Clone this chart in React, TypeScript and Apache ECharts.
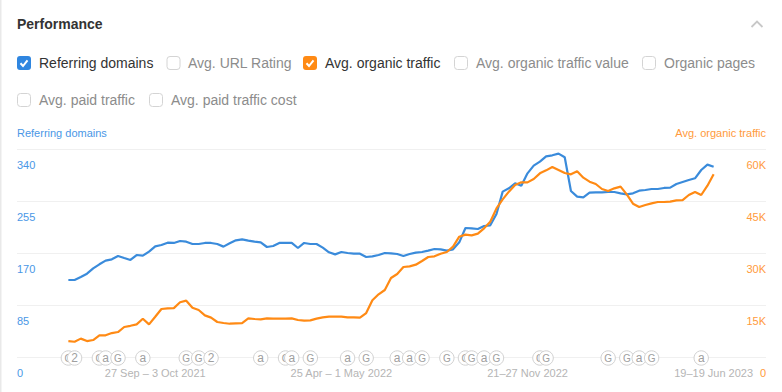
import React, { useEffect, useRef } from "react";
import * as echarts from "echarts";

const referringDomains = [
  125.9, 125.9, 130.8, 136.2, 144.9, 151.5, 157.5, 159.7, 165.1, 161.8, 158.6, 166.7, 165.6, 172.2, 180.9,
  183.1, 186.9, 186.4, 189.6, 188.5, 184.7, 184.7, 186.4, 186.4, 184.7, 180.4, 185.8, 190.7, 192.3, 190.2,
  188.5, 187.4, 179.8, 181.4, 186.4, 186.4, 186.4, 178.2, 186.4, 184.7, 184.7, 178.7, 171.1, 167.8, 171.6,
  170, 168.9, 168.9, 163.5, 164.6, 166.7, 170, 169.5, 168.4, 165.1, 168.4, 170.6, 171.6, 173.8, 176.5,
  176, 173.8, 176, 187.4, 210.9, 210.3, 209.2, 214.1, 215.2, 233.8, 270.3, 275.7, 283.9, 280, 300.2,
  312.8, 319.3, 328, 329.7, 332.4, 326.4, 271.4, 262.1, 261, 268.6, 269.2, 269.2, 269.7, 269.7, 267.5,
  265.9, 267.5, 271.9, 273, 274.6, 274.6, 276.3, 276.8, 282.8, 286.1, 289.3, 292.1, 305.7, 314.4, 311.1,
];

const organicTrafficK = [
  4.6, 4.4, 5.3, 4.6, 4.9, 6.25, 6.25, 6.9, 7.2, 8.65, 9.0, 9.4, 11.05, 9.4, 11.6,
  13.85, 14.0, 14.1, 15.8, 16.25, 14.2, 13.55, 12.0, 11.35, 10.1, 9.8, 9.6, 9.7, 9.8, 11.15,
  10.96, 10.87, 11.15, 11.06, 11.06, 11.06, 11.15, 10.67, 10.48, 10.58, 11.06, 11.44, 11.63, 11.63, 11.63,
  11.44, 11.44, 11.35, 12.69, 16.35, 18.08, 19.33, 22.79, 23.94, 25.96, 26.15, 26.63, 27.69, 28.85, 29.04,
  29.8, 30.29, 31.83, 34.71, 35.29, 35.1, 35.58, 37.11, 39.04, 42.88, 45.48, 47.69, 49.61, 50.38, 50.38,
  51.35, 52.98, 53.84, 54.8, 53.94, 53.07, 52.69, 53.56, 51.73, 50.58, 49.9, 48.46, 47.88, 48.65, 49.13,
  46.92, 44.23, 43.27, 43.84, 44.33, 44.71, 44.71, 44.81, 45.19, 45.28, 46.73, 47.6, 46.73, 49.42, 52.69,
];

const xTickWeeks = [14, 44, 74, 104];
const xTickLabels = ["27 Sep – 3 Oct 2021", "25 Apr – 1 May 2022", "21–27 Nov 2022", "19–19 Jun 2023"];

const annotationWeeks = [0, 1, 5, 6, 8, 12, 19, 21, 23, 31, 35, 36, 39, 45, 48, 53, 55, 57, 61, 64, 65, 67, 69, 76, 77, 87, 90, 92, 94, 102];
const annotationLetters = ["G", "2", "G", "a", "G", "a", "G", "G", "2", "a", "G", "a", "G", "a", "G", "a", "a", "G", "G", "G", "G", "a", "G", "G", "G", "G", "G", "a", "G", "a"];

const checkboxRows = [
  { label: "Referring domains", box: 17, text: 39, y: 63, color: "#2f86e0" },
  { label: "Avg. URL Rating", box: 166.5, text: 188, y: 63, color: "" },
  { label: "Avg. organic traffic", box: 303, text: 325, y: 63, color: "#ff8a14" },
  { label: "Avg. organic traffic value", box: 454, text: 476, y: 63, color: "" },
  { label: "Organic pages", box: 642, text: 664, y: 63, color: "" },
  { label: "Avg. paid traffic", box: 17, text: 39, y: 100, color: "" },
  { label: "Avg. paid traffic cost", box: 149, text: 171, y: 100, color: "" },
];

const FONT = '"Liberation Sans", Arial, sans-serif';
const BLUE = "#3a8bdb";
const ORANGE = "#ff8a14";

export default function App() {
  const ref = useRef<HTMLDivElement>(null);
  useEffect(() => {
    const chart = echarts.init(ref.current!, undefined, { renderer: "svg" });
    const graphics: any[] = [
      { type: "rect", shape: { x: 0, y: 0, width: 1.5, height: 392 }, style: { fill: "#e9e9e9" } },
      { type: "text", x: 17, y: 24, style: { text: "Performance", font: `bold 14px ${FONT}`, fill: "#333", verticalAlign: "middle" } },
      { type: "polyline", shape: { points: [[751.5, 27], [757, 21.5], [762.5, 27]] }, style: { stroke: "#c8c8c8", lineWidth: 1.8, fill: "none" } },
      { type: "text", x: 17, y: 133, style: { text: "Referring domains", font: `11px ${FONT}`, fill: "#4a97e6", verticalAlign: "middle" } },
      { type: "text", x: 766, y: 133, style: { text: "Avg. organic traffic", font: `11px ${FONT}`, fill: "#ff9a3c", align: "right", verticalAlign: "middle" } },
    ];
    checkboxRows.forEach((c) => {
      const on = !!c.color;
      graphics.push({
        type: "rect",
        shape: { x: on ? c.box : c.box + 0.5, y: on ? c.y - 7 : c.y - 6.5, width: on ? 14 : 13, height: on ? 14 : 13, r: 3 },
        style: on ? { fill: c.color } : { fill: "#fff", stroke: "#d4d4d4", lineWidth: 1 },
      });
      if (on) {
        graphics.push({
          type: "polyline",
          shape: { points: [[c.box + 3.5, c.y + 0.3], [c.box + 6, c.y + 3], [c.box + 10.5, c.y - 2.7]] },
          style: { stroke: "#fff", lineWidth: 2, fill: "none" },
        });
      }
      graphics.push({
        type: "text",
        x: c.text,
        y: c.y,
        style: { text: c.label, font: `14px ${FONT}`, fill: on ? "#333" : "#8c8c8c", verticalAlign: "middle" },
      });
    });

    chart.setOption({
      animation: false,
      graphic: graphics,
      grid: { left: 17, right: 16, top: 149, bottom: 35 },
      xAxis: {
        type: "value",
        min: -8.28,
        max: 112.44,
        splitLine: { show: false },
        axisTick: { show: false },
        axisLine: { show: false },
        axisLabel: {
          customValues: xTickWeeks,
          formatter: (v: number) => xTickLabels[xTickWeeks.indexOf(v)] ?? "",
          color: "#b5b5b5",
          fontSize: 11,
          fontFamily: FONT,
          margin: 10,
        },
      },
      yAxis: [
        {
          type: "value",
          min: 0,
          max: 340,
          interval: 85,
          position: "left",
          axisLine: { show: false },
          axisTick: { show: false },
          splitLine: { lineStyle: { color: "#f0f0f0", width: 1 } },
          axisLabel: {
            inside: true,
            margin: 0,
            align: "left",
            verticalAlign: "top",
            padding: [10, 0, 0, 0],
            color: "#4a97e6",
            fontSize: 11,
            fontFamily: FONT,
          },
        },
        {
          type: "value",
          min: 0,
          max: 60,
          interval: 15,
          position: "right",
          axisLine: { show: false },
          axisTick: { show: false },
          splitLine: { show: false },
          axisLabel: {
            inside: true,
            margin: 0,
            align: "right",
            verticalAlign: "top",
            padding: [10, 0, 0, 0],
            color: "#ff9a3c",
            fontSize: 11,
            fontFamily: FONT,
            formatter: (v: number) => (v === 0 ? "0" : `${v}K`),
          },
        },
      ],
      series: [
        {
          type: "line",
          name: "Referring domains",
          yAxisIndex: 0,
          showSymbol: false,
          symbol: "none",
          lineStyle: { color: BLUE, width: 2.2 },
          data: referringDomains.map((v, i) => [i, v]),
          z: 2,
        },
        {
          type: "line",
          name: "Avg. organic traffic",
          yAxisIndex: 1,
          showSymbol: false,
          symbol: "none",
          lineStyle: { color: ORANGE, width: 2.2 },
          data: organicTrafficK.map((v, i) => [i, v]),
          z: 3,
        },
        {
          type: "custom",
          name: "Annotations",
          yAxisIndex: 0,
          clip: false,
          silent: true,
          z: 4,
          data: annotationWeeks.map((w, i) => [w, 0, i]),
          renderItem: (_: any, api: any) => {
            const p = api.coord([api.value(0), 0]);
            const letter = annotationLetters[api.value(2)];
            return {
              type: "group",
              children: [
                { type: "circle", shape: { cx: p[0], cy: p[1] + 1, r: 7.2 }, style: { fill: "#fff", stroke: "#d2d2d2", lineWidth: 1 } },
                {
                  type: "text",
                  x: p[0],
                  y: p[1] + 1,
                  style: { text: letter, fill: "#a0a0a0", font: `${letter === "G" ? 10 : 12}px ${FONT}`, align: "center", verticalAlign: "middle" },
                },
              ],
            };
          },
        },
      ],
    });
    return () => chart.dispose();
  }, []);
  return <div ref={ref} style={{ position: "fixed", left: 0, top: 0, width: 782, height: 392, background: "#fff" }} />;
}
